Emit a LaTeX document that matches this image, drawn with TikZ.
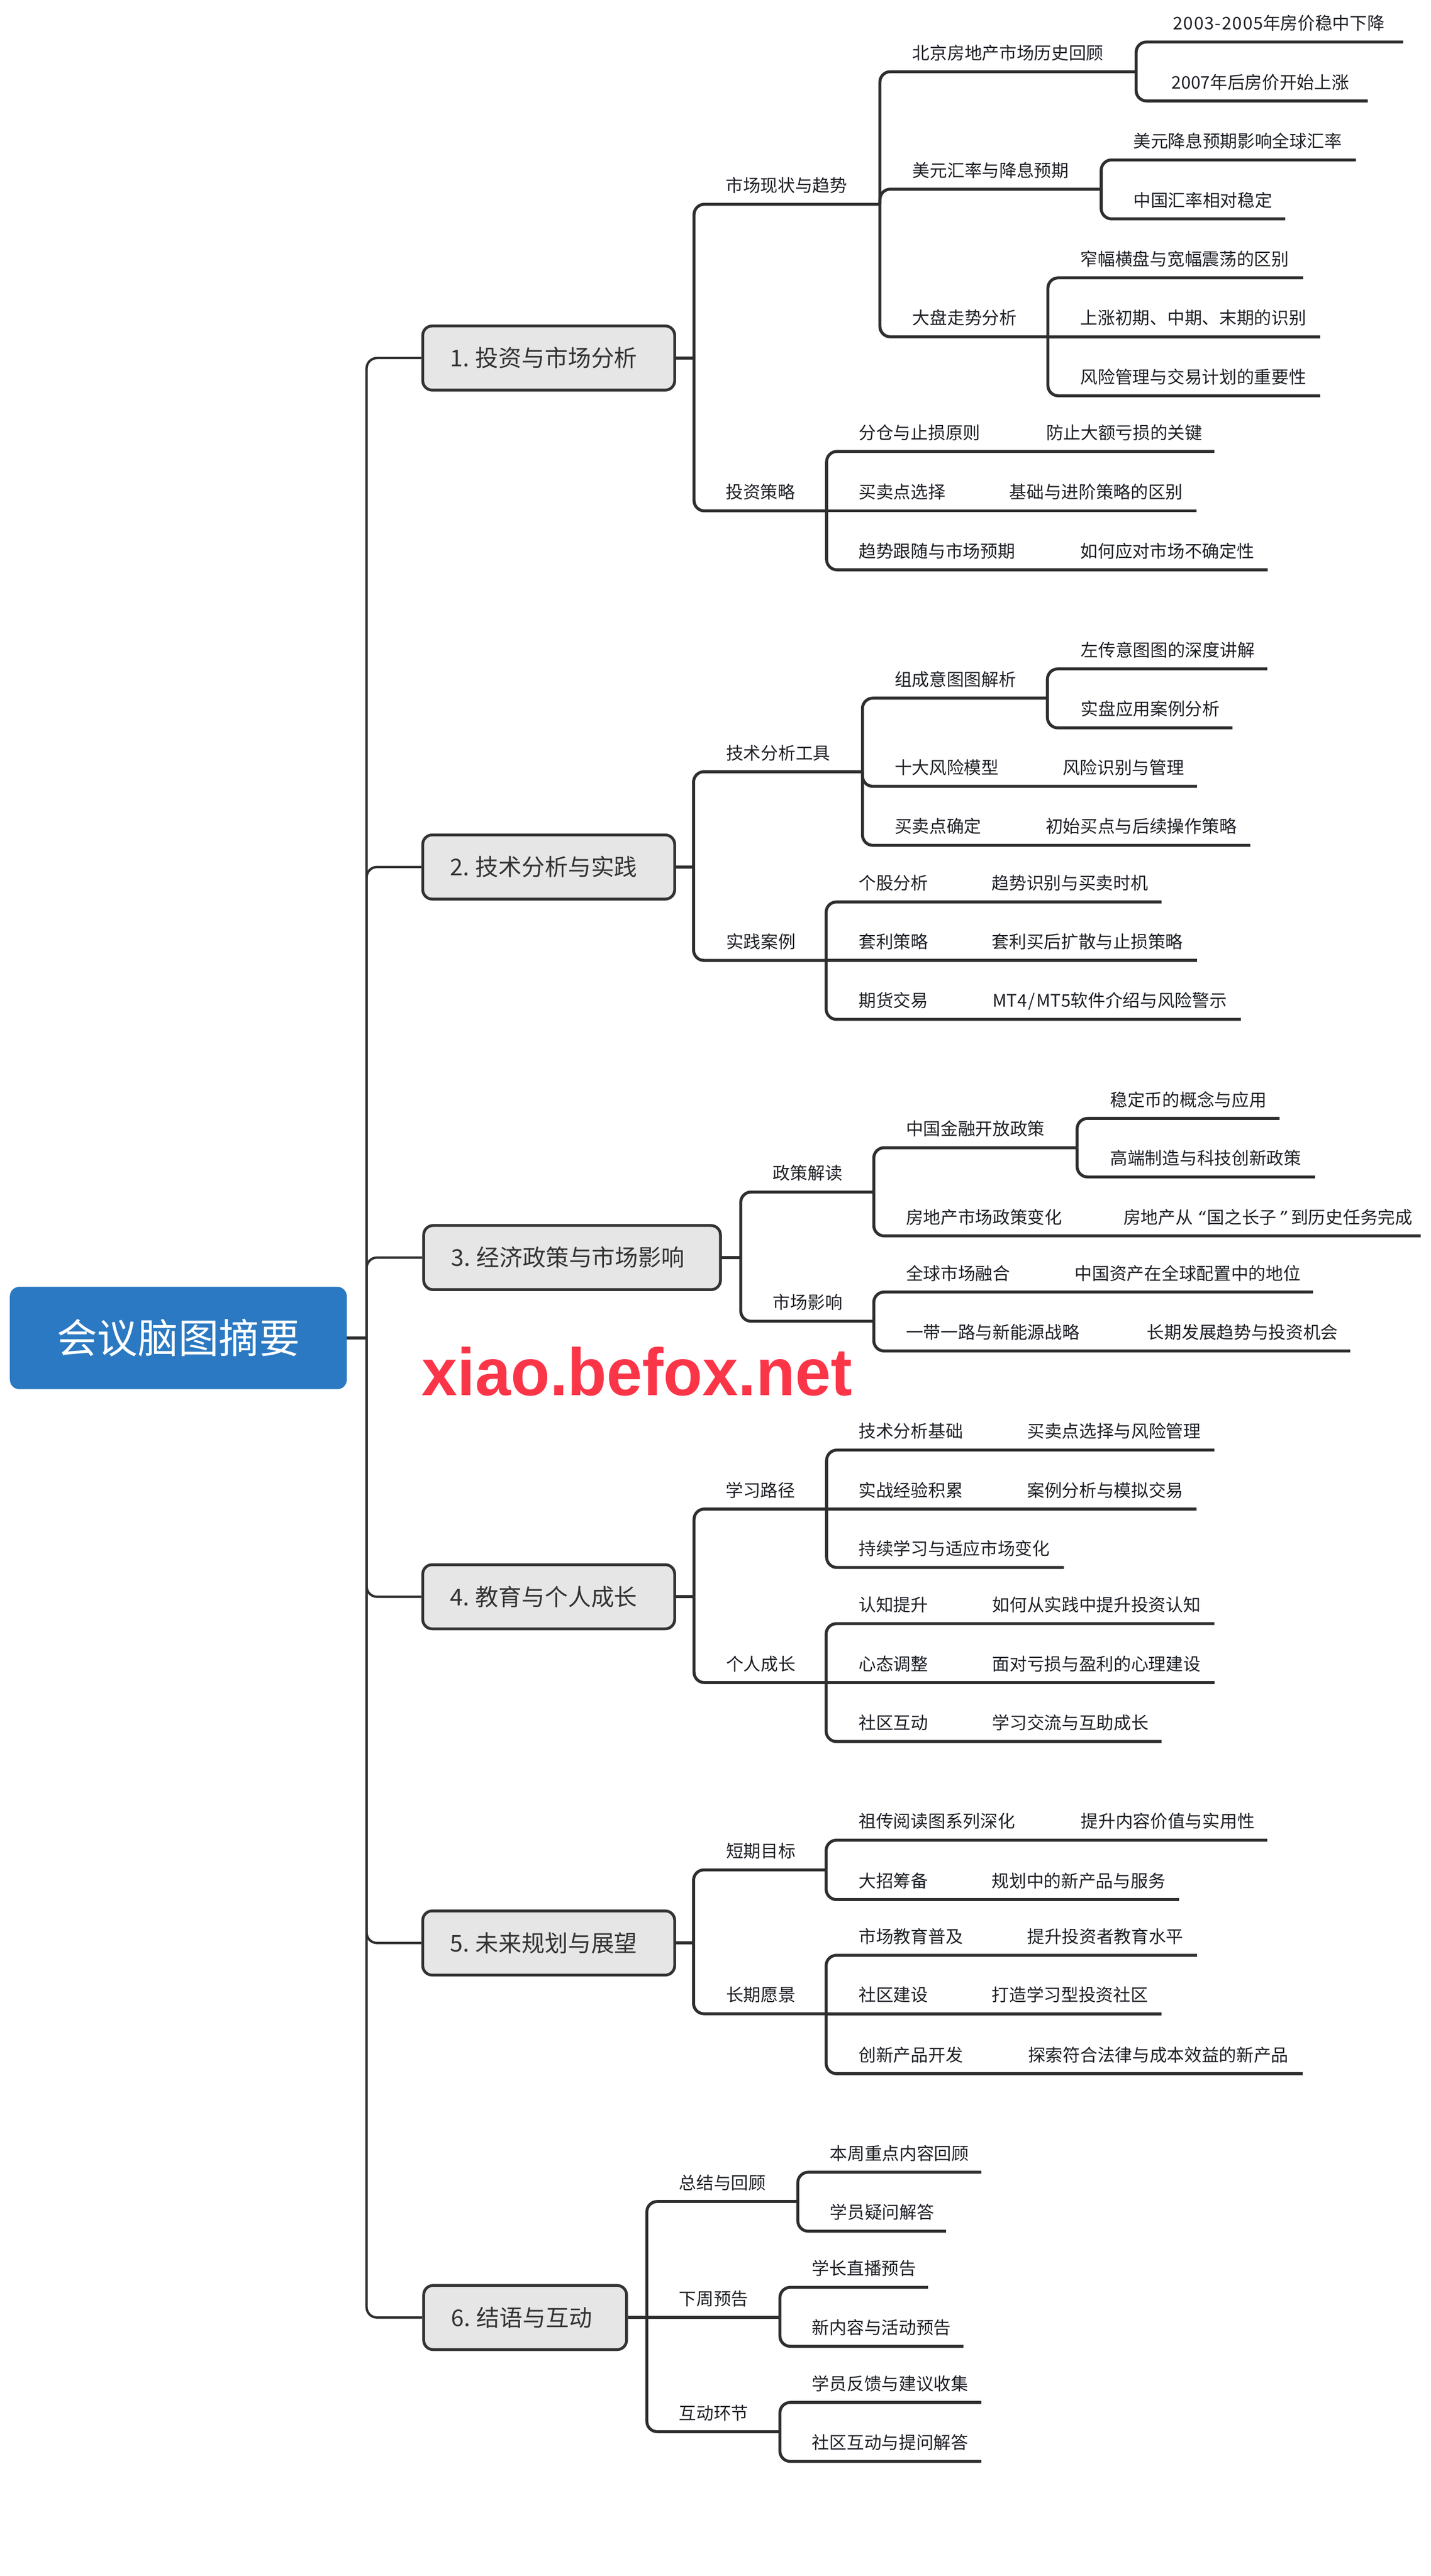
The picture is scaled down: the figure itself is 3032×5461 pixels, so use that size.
\documentclass[tikz,border=0pt]{standalone}
\usepackage{fontspec}
\setmainfont{Noto Sans CJK SC}
\newfontfamily\wmfont{Liberation Sans}
\newfontfamily\qfont{DejaVu Sans}
\definecolor{ink}{HTML}{2E2E2E}
\definecolor{boxink}{HTML}{333333}
\definecolor{leafink}{HTML}{1E2026}
\definecolor{rootblue}{HTML}{2B79C2}
\definecolor{boxgrey}{HTML}{E6E6E6}
\definecolor{wm}{HTML}{FB3548}
\tikzset{
  conn/.style={draw=ink,line width=6.3pt,rounded corners=22pt,line cap=butt},
  trunk/.style={conn,line width=5pt},
  leaf/.style={inner sep=0pt,anchor=base west,text=leafink,font=\fontsize{36.8}{44}\selectfont},
  mainbox/.style={draw=boxink,line width=6pt,fill=boxgrey,rounded corners=20pt,inner ysep=0pt,inner xsep=58pt,
    minimum height=136pt,align=left,text=boxink,text height=41pt,text depth=4pt,font=\fontsize{49}{56}\selectfont},
  rootbox/.style={fill=rootblue,rounded corners=20pt,minimum width=714pt,minimum height=217pt,inner sep=0pt,text=white,font=\fontsize{85.8}{96}\selectfont}
}
% rounded branch from a parent junction, with its label
\newcommand{\BT}[6]{\coordinate (#1) at (#3,#4);\draw[conn] (#2) |- (#1);\node[leaf] (#1t) at (#5,#4-26) {#6};}
% straight branch (same height as the parent junction)
\newcommand{\BS}[6]{\coordinate (#1) at (#3,#4);\draw[conn] (#2) -- (#1);\node[leaf] (#1t) at (#5,#4-26) {#6};}
% second text on an existing branch
\newcommand{\TT}[4]{\node[leaf] (#1) at (#2,#3-26) {#4};}
\begin{document}
\begin{tikzpicture}[x=1pt,y=-1pt]
\useasboundingbox (0,0) rectangle (3032,5461);
\fill[white] (0,0) rectangle (3032,5461);
% root and main boxes
\node[rootbox] (root) at (378,2836.5) {会议脑图摘要};
\node[mainbox,text width=418pt] (b1) at (1163,759) {1.\hspace{13pt}投资与市场分析};
\node[mainbox,text width=418pt] (b2) at (1163,1838) {2.\hspace{13pt}技术分析与实践};
\node[mainbox,text width=513pt] (b3) at (1212.5,2666) {3.\hspace{13pt}经济政策与市场影响};
\node[mainbox,text width=418pt] (b4) at (1163,3385) {4.\hspace{13pt}教育与个人成长};
\node[mainbox,text width=418pt] (b5) at (1163,4119) {5.\hspace{13pt}未来规划与展望};
\node[mainbox,text width=314pt] (b6) at (1113,4913) {6.\hspace{13pt}结语与互动};
\coordinate (J0) at (777,2836.5);
\draw[conn] (root.east) -- (J0);
\foreach \b in {b1,b2,b3,b4,b5,b6} {\draw[trunk] (J0) |- (\b.west);}
% section 1
\coordinate (J1) at (1471,759);
\draw[conn] (b1.east) -- (J1);
\BT{a}{J1}{1865}{433}{1538}{市场现状与趋势}
\BT{aa}{a}{2408}{152}{1934}{北京房地产市场历史回顾}
\BT{aaa}{aa}{2974}{89}{2486}{{\addfontfeature{LetterSpace=5}2003-2005}年房价稳中下降}
\BT{aab}{aa}{2899}{214}{2483}{2007年后房价开始上涨}
\BT{ab}{a}{2334}{401}{1934}{美元汇率与降息预期}
\BT{aba}{ab}{2874}{339}{2402}{美元降息预期影响全球汇率}
\BT{abb}{ab}{2724}{464}{2402}{中国汇率相对稳定}
\BT{ac}{a}{2221}{714}{1934}{大盘走势分析}
\BT{aca}{ac}{2762}{589}{2290}{窄幅横盘与宽幅震荡的区别}
\BS{acb}{ac}{2798}{714}{2290}{上涨初期、中期、末期的识别}
\BT{acc}{ac}{2798}{839}{2290}{风险管理与交易计划的重要性}
\BT{b}{J1}{1752}{1083}{1538}{投资策略}
\BT{ba}{b}{2574}{957}{1820}{分仓与止损原则}
\TT{bax}{2217}{957}{防止大额亏损的关键}
\BS{bb}{b}{2536}{1083}{1820}{买卖点选择}
\TT{bbx}{2139}{1083}{基础与进阶策略的区别}
\BT{bc}{b}{2687}{1208}{1820}{趋势跟随与市场预期}
\TT{bcx}{2290}{1208}{如何应对市场不确定性}
% section 2
\coordinate (J2) at (1470,1838);
\draw[conn] (b2.east) -- (J2);
\BT{c}{J2}{1828}{1636}{1539}{技术分析工具}
\BT{ca}{c}{2220}{1480}{1896}{组成意图图解析}
\BT{caa}{ca}{2686}{1418}{2291}{左传意图图的深度讲解}
\BT{cab}{ca}{2612}{1543}{2291}{实盘应用案例分析}
\BT{cb}{c}{2537}{1667}{1896}{十大风险模型}
\TT{cbx}{2252}{1667}{风险识别与管理}
\BT{cc}{c}{2650}{1792}{1896}{买卖点确定}
\TT{ccx}{2216}{1792}{初始买点与后续操作策略}
\BT{d}{J2}{1751}{2036}{1539}{实践案例}
\BT{da}{d}{2462}{1912}{1820}{个股分析}
\TT{dax}{2102}{1912}{趋势识别与买卖时机}
\BS{db}{d}{2537}{2036}{1820}{套利策略}
\TT{dbx}{2102}{2036}{套利买后扩散与止损策略}
\BT{dc}{d}{2630}{2161}{1820}{期货交易}
\TT{dcx}{2104}{2161}{MT4\kern3pt/\kern3ptMT5软件介绍与风险警示}
% section 3
\coordinate (J3) at (1570,2666);
\draw[conn] (b3.east) -- (J3);
\BT{e}{J3}{1852}{2527}{1638}{政策解读}
\BT{ea}{e}{2283}{2433}{1920}{中国金融开放政策}
\BT{eaa}{ea}{2712}{2371}{2353}{稳定币的概念与应用}
\BT{eab}{ea}{2787}{2495}{2353}{高端制造与科技创新政策}
\BT{eb}{e}{3011}{2620}{1920}{房地产市场政策变化}
\TT{ebx}{2381}{2620}{房地产从 {\qfont\itshape “}\kern3pt国之长子\kern3pt{\qfont\itshape ”} 到历史任务完成}
\BT{f}{J3}{1852}{2801}{1638}{市场影响}
\BT{fa}{f}{2783}{2739}{1920}{全球市场融合}
\TT{fax}{2278}{2739}{中国资产在全球配置中的地位}
\BT{fb}{f}{2862}{2864}{1920}{一带一路与新能源战略}
\TT{fbx}{2431}{2864}{长期发展趋势与投资机会}
\node[inner sep=0pt,anchor=base west,text=wm,xscale=0.955,font=\wmfont\bfseries\fontsize{142}{156}\selectfont] (wmark) at (894,2958) {xiao.befox.net};
% section 4
\coordinate (J4) at (1471,3385);
\draw[conn] (b4.east) -- (J4);
\BT{g}{J4}{1752}{3199}{1538}{学习路径}
\BT{ga}{g}{2574}{3074}{1820}{技术分析基础}
\TT{gax}{2177}{3074}{买卖点选择与风险管理}
\BS{gb}{g}{2536}{3199}{1820}{实战经验积累}
\TT{gbx}{2177}{3199}{案例分析与模拟交易}
\BT{gc}{g}{2255}{3323}{1820}{持续学习与适应市场变化}
\BT{h}{J4}{1751}{3567}{1539}{个人成长}
\BT{ha}{h}{2574}{3442}{1820}{认知提升}
\TT{hax}{2103}{3442}{如何从实践中提升投资认知}
\BS{hb}{h}{2574}{3567}{1820}{心态调整}
\TT{hbx}{2103}{3567}{面对亏损与盈利的心理建设}
\BT{hc}{h}{2462}{3692}{1820}{社区互动}
\TT{hcx}{2103}{3692}{学习交流与互助成长}
% section 5
\coordinate (J5) at (1470,4119);
\draw[conn] (b5.east) -- (J5);
\BT{i}{J5}{1751}{3964}{1539}{短期目标}
\BT{ia}{i}{2686}{3901}{1820}{祖传阅读图系列深化}
\TT{iax}{2291}{3901}{提升内容价值与实用性}
\BT{ib}{i}{2499}{4027}{1820}{大招筹备}
\TT{ibx}{2102}{4027}{规划中的新产品与服务}
\BT{j}{J5}{1751}{4269}{1539}{长期愿景}
\BT{ja}{j}{2537}{4145}{1820}{市场教育普及}
\TT{jax}{2177}{4145}{提升投资者教育水平}
\BS{jb}{j}{2462}{4269}{1820}{社区建设}
\TT{jbx}{2102}{4269}{打造学习型投资社区}
\BT{jc}{j}{2761}{4396}{1820}{创新产品开发}
\TT{jcx}{2179}{4396}{探索符合法律与成本效益的新产品}
% section 6
\coordinate (J6) at (1371,4913);
\draw[conn] (b6.east) -- (J6);
\BT{k}{J6}{1691}{4667}{1439}{总结与回顾}
\BT{ka}{k}{2080}{4605}{1759}{本周重点内容回顾}
\BT{kb}{k}{2005}{4730}{1759}{学员疑问解答}
\BS{l}{J6}{1653}{4913}{1439}{下周预告}
\BT{la}{l}{1967}{4849}{1721}{学长直播预告}
\BT{lb}{l}{2042}{4974}{1721}{新内容与活动预告}
\BT{m}{J6}{1653}{5155}{1439}{互动环节}
\BT{ma}{m}{2080}{5093}{1721}{学员反馈与建议收集}
\BT{mb}{m}{2080}{5218}{1721}{社区互动与提问解答}
\end{tikzpicture}
\end{document}
